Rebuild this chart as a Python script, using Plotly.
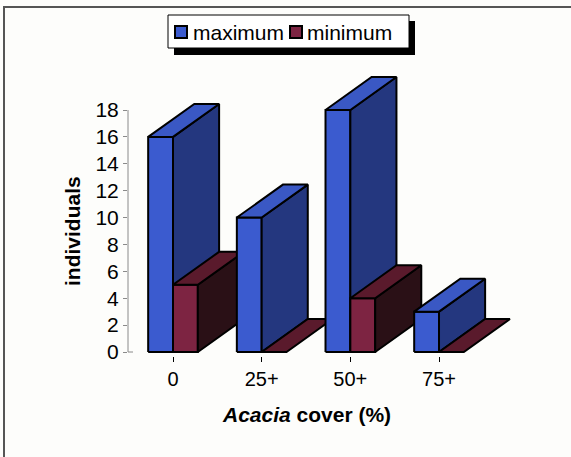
import plotly.graph_objects as go

# ---- data ----
categories = ["0", "25+", "50+", "75+"]
maximum = [16, 10, 18, 3]
minimum = [5, 0, 4, 0]
y_ticks = [0, 2, 4, 6, 8, 10, 12, 14, 16, 18]

# ---- style / geometry ----
W, H = 571, 457
ML, MR, MT, MB = 128, 31, 62, 101
PW, PH = W - ML - MR, H - MT - MB
KY = 242 / 18.0          # px per y unit
KX = 88.67               # px per category
y0_px = 352
ymin = -(MT + PH - y0_px) / KY
ymax = ymin + PH / KY
xmin = -(173 - ML) / KX
xmax = xmin + PW / KX

BAR_W = 0.28
DX, DY = 0.52, 2.45
FONT = "Arial, Liberation Sans, sans-serif"

series = [
    dict(name="maximum", vals=maximum, off=-BAR_W,
         front="#3b5bcf", side="#24377f", top="#3a58c4"),
    dict(name="minimum", vals=minimum, off=0.0,
         front="#7d2442", side="#2a1016", top="#5a1a2c"),
]

fig = go.Figure()


def poly(xs, ys, color):
    fig.add_trace(go.Scatter(
        x=xs + [xs[0]], y=ys + [ys[0]], mode="lines", fill="toself",
        fillcolor=color, line=dict(color="black", width=2),
        hoverinfo="skip", showlegend=False))


for i, cat in enumerate(categories):
    for s in series:
        h = s["vals"][i]
        x0 = i + s["off"]
        x1 = x0 + BAR_W
        if h > 0:
            # front face
            poly([x0, x1, x1, x0], [0, 0, h, h], s["front"])
            # side face
            poly([x1, x1 + DX, x1 + DX, x1], [0, DY, h + DY, h], s["side"])
        # top face
        poly([x0, x1, x1 + DX, x0 + DX], [h, h, h + DY, h + DY], s["top"])


def px_x(p):
    return (p - ML) / PW


def px_y(p):
    return (MT + PH - p) / PH


shapes = []
# outer frame (left and top visible)
shapes.append(dict(type="rect", xref="paper", yref="paper",
                   x0=px_x(4), x1=px_x(590), y0=px_y(7), y1=px_y(480),
                   line=dict(color="#555555", width=2), layer="below"))
# y axis line + small base line
shapes.append(dict(type="line", xref="paper", yref="y",
                   x0=0, x1=0, y0=0, y1=18,
                   line=dict(color="#8a8a8a", width=1)))
shapes.append(dict(type="line", xref="paper", yref="y",
                   x0=0, x1=px_x(133), y0=0, y1=0,
                   line=dict(color="#8a8a8a", width=1)))
# legend shadow and box
shapes.append(dict(type="rect", xref="paper", yref="paper",
                   x0=px_x(174), x1=px_x(415), y0=px_y(21), y1=px_y(55),
                   fillcolor="black", line=dict(width=0)))
shapes.append(dict(type="rect", xref="paper", yref="paper",
                   x0=px_x(168), x1=px_x(409), y0=px_y(15), y1=px_y(48),
                   fillcolor="white", line=dict(color="black", width=1)))
# legend swatches
sw = [(175, series[0]["front"]), (290, series[1]["front"])]
for sx, col in sw:
    shapes.append(dict(type="rect", xref="paper", yref="paper",
                       x0=px_x(sx), x1=px_x(sx + 12), y0=px_y(26), y1=px_y(38),
                       fillcolor=col, line=dict(color="black", width=2)))

annotations = [
    dict(text="maximum", xref="paper", yref="paper", x=px_x(191), y=px_y(32),
         xanchor="left", yanchor="middle", showarrow=False,
         font=dict(family=FONT, size=21, color="black")),
    dict(text="minimum", xref="paper", yref="paper", x=px_x(305), y=px_y(32),
         xanchor="left", yanchor="middle", showarrow=False,
         font=dict(family=FONT, size=21, color="black")),
    dict(text="<b>individuals</b>", xref="paper", yref="paper",
         x=px_x(72), y=px_y(231), xanchor="center", yanchor="middle",
         textangle=-90, showarrow=False,
         font=dict(family=FONT, size=21, color="black")),
    dict(text="<b><i>Acacia</i> cover (%)</b>", xref="paper", yref="paper",
         x=px_x(306), y=px_y(414), xanchor="center", yanchor="middle",
         showarrow=False, font=dict(family=FONT, size=21, color="black")),
]

fig.update_layout(
    width=W, height=H,
    margin=dict(l=ML, r=MR, t=MT, b=MB, pad=0),
    paper_bgcolor="#fdfdfb", plot_bgcolor="#fdfdfb",
    showlegend=False,
    shapes=shapes, annotations=annotations,
    xaxis=dict(range=[xmin, xmax], tickvals=list(range(len(categories))),
               ticktext=categories, ticks="outside", ticklen=5,
               tickcolor="black", showgrid=False, zeroline=False,
               showline=False, tickfont=dict(family=FONT, size=20, color="black")),
    yaxis=dict(range=[ymin, ymax], tickvals=y_ticks, ticks="outside",
               ticklen=4, tickcolor="#8a8a8a", showgrid=False, zeroline=False,
               showline=False, tickfont=dict(family=FONT, size=21, color="black")),
)

fig.write_html("out.html")
